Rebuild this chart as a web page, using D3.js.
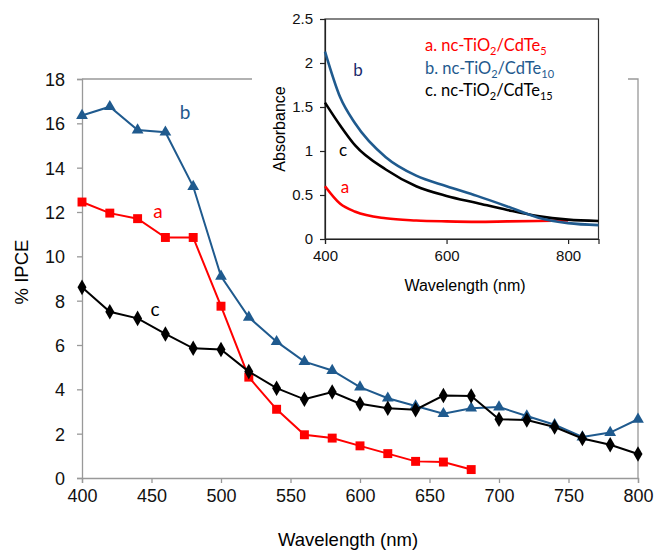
<!DOCTYPE html>
<html>
<head>
<meta charset="utf-8">
<script src="https://cdn.jsdelivr.net/npm/d3@7"></script>
<style>
  body { margin: 0; background: #fff; }
  svg { display: block; }
  .main text { font-family: "Liberation Sans", Arial, sans-serif; }
  .ins text { font-family: "Liberation Sans", Arial, sans-serif; }
</style>
</head>
<body>
<svg id="chart"></svg>
<script>
const WIDTH = 655;
const HEIGHT = 551;

// IPCE data (main chart)
const wlA = [400, 420, 440, 460, 480, 500, 520, 540, 560, 580, 600, 620, 640, 660, 680];
const ipceA = [12.45, 11.95, 11.7, 10.85, 10.85, 7.75, 4.55, 3.1, 1.95, 1.8, 1.45, 1.1, 0.75, 0.72, 0.38];

const wlBC = [400, 420, 440, 460, 480, 500, 520, 540, 560, 580, 600, 620, 640, 660, 680, 700, 720, 740, 760, 780, 800];
const ipceB = [16.35, 16.75, 15.7, 15.6, 13.15, 9.1, 7.25, 6.15, 5.25, 4.85, 4.1, 3.6, 3.25, 2.9, 3.15, 3.2, 2.8, 2.4, 1.85, 2.05, 2.65];
const ipceC = [8.6, 7.5, 7.2, 6.5, 5.85, 5.8, 4.8, 4.05, 3.55, 3.88, 3.35, 3.15, 3.08, 3.72, 3.7, 2.65, 2.62, 2.3, 1.78, 1.5, 1.08];

const xTicks = [400, 450, 500, 550, 600, 650, 700, 750, 800];
const yTicks = [0, 2, 4, 6, 8, 10, 12, 14, 16, 18];

// absorbance data (inset)
const absWl = [400, 425, 450, 500, 550, 600, 650, 700, 750, 800, 850];
const absA = [0.6, 0.4, 0.31, 0.235, 0.21, 0.2, 0.195, 0.2, 0.205, 0.21];
const absB = [2.13, 1.61, 1.31, 0.93, 0.72, 0.6, 0.49, 0.37, 0.245, 0.18, 0.158];
const absC = [1.55, 1.29, 1.06, 0.79, 0.6, 0.49, 0.41, 0.33, 0.26, 0.22, 0.205];

const insXTicks = [400, 600, 800];
const insYTicks = [0, 0.5, 1, 1.5, 2, 2.5];

const RED = "#ff0000";
const BLUE = "#1f5a8e";
const NAVY = "#1c2b6b";
const AXIS = "#999";

const svg = d3.select("#chart").attr("width", WIDTH).attr("height", HEIGHT);

//    Main chart    ////////////////////////////////////////////

const x = d3.scaleLinear().domain([400, 800]).range([82, 638]);
const y = d3.scaleLinear().domain([0, 18]).range([478, 79]);

const main = svg.append("g").attr("class", "main");

// frame (top + right)
main.append("path")
  .attr("d", `M${x(400)},${y(18)}H${x(800)}V${y(0)}`)
  .attr("fill", "none").attr("stroke", AXIS).attr("stroke-width", 1.3);

const xAxis = main.append("g")
  .attr("transform", `translate(0,${y(0)})`)
  .call(d3.axisBottom(x).tickValues(xTicks).tickSize(5).tickPadding(6));
const yAxis = main.append("g")
  .attr("transform", `translate(${x(400)},0)`)
  .call(d3.axisLeft(y).tickValues(yTicks).tickSize(5).tickPadding(12));

[xAxis, yAxis].forEach(a => {
  a.select(".domain").attr("stroke", AXIS).attr("stroke-width", 1.3);
  a.selectAll(".tick line").attr("stroke", AXIS).attr("stroke-width", 1.3);
  a.selectAll(".tick text").attr("fill", "#111").style("font-size", "18px");
});
yAxis.selectAll(".tick text").attr("dy", "0.36em");

main.append("text")
  .attr("x", 348).attr("y", 546)
  .attr("text-anchor", "middle")
  .style("font-size", "18.5px")
  .text("Wavelength (nm)");

main.append("text")
  .attr("transform", "translate(28,272) rotate(-90)")
  .attr("text-anchor", "middle")
  .style("font-size", "18.5px")
  .text("% IPCE");

const line = d3.line().x(d => x(d[0])).y(d => y(d[1]));

const series = [
  { name: "a", wl: wlA, v: ipceA, color: RED, sym: d3.symbolSquare, size: 80 },
  { name: "b", wl: wlBC, v: ipceB, color: BLUE, sym: d3.symbolTriangle, size: 60 },
  { name: "c", wl: wlBC, v: ipceC, color: "#000", sym: d3.symbolDiamond, size: 70 }
];

series.forEach(s => {
  const pts = s.wl.map((w, i) => [w, s.v[i]]);
  main.append("path")
    .datum(pts)
    .attr("d", line)
    .attr("fill", "none")
    .attr("stroke", s.color)
    .attr("stroke-width", 2);
  main.selectAll(".pt-" + s.name)
    .data(pts)
    .enter().append("path")
    .attr("class", "pt-" + s.name)
    .attr("transform", d => `translate(${x(d[0])},${y(d[1])})`)
    .attr("d", d3.symbol().type(s.sym).size(s.size))
    .attr("fill", s.color);
});

const mainLabels = [
  { t: "b", x: 185, y: 119, c: BLUE },
  { t: "a", x: 158, y: 218, c: RED },
  { t: "c", x: 155, y: 316, c: "#000" }
];
main.selectAll(".lbl")
  .data(mainLabels)
  .enter().append("text")
  .attr("x", d => d.x).attr("y", d => d.y)
  .attr("text-anchor", "middle")
  .attr("fill", d => d.c)
  .style("font-family", "Lato, sans-serif")
  .style("font-size", "19px")
  .text(d => d.t);

//    Inset    ////////////////////////////////////////////

const ix = d3.scaleLinear().domain([400, 850]).range([325, 598.5]);
const iy = d3.scaleLinear().domain([0, 2.5]).range([239, 19]);

const ins = svg.append("g").attr("class", "ins");

ins.append("rect")
  .attr("x", 252).attr("y", 0)
  .attr("width", 628 - 252).attr("height", 296)
  .attr("fill", "#fff");

ins.append("rect")
  .attr("x", ix(400)).attr("y", iy(2.5))
  .attr("width", ix(850) - ix(400)).attr("height", iy(0) - iy(2.5))
  .attr("fill", "none").attr("stroke", "#333").attr("stroke-width", 1.2);

const ixAxis = ins.append("g")
  .attr("transform", `translate(0,${iy(0)})`)
  .call(d3.axisBottom(ix).tickValues(insXTicks).tickSize(5).tickPadding(6));
const iyAxis = ins.append("g")
  .attr("transform", `translate(${ix(400)},0)`)
  .call(d3.axisLeft(iy).tickValues(insYTicks).tickSize(5).tickPadding(7)
    .tickFormat(d => d));

[ixAxis, iyAxis].forEach(a => {
  a.select(".domain").attr("stroke", "#222").attr("stroke-width", 1.2);
  a.selectAll(".tick line").attr("stroke", "#222").attr("stroke-width", 1.2);
  a.selectAll(".tick text").attr("fill", "#111").style("font-size", "15px");
});

ins.append("text")
  .attr("x", 465).attr("y", 291)
  .attr("text-anchor", "middle")
  .style("font-size", "16px")
  .text("Wavelength (nm)");

ins.append("text")
  .attr("transform", "translate(285,129) rotate(-90)")
  .attr("text-anchor", "middle")
  .style("font-size", "16px")
  .text("Absorbance");

const iline = d3.line().x(d => ix(d[0])).y(d => iy(d[1])).curve(d3.curveMonotoneX);

const absSeries = [
  { v: absA, color: RED },
  { v: absC, color: "#000" },
  { v: absB, color: BLUE }
];
absSeries.forEach(s => {
  ins.append("path")
    .datum(s.v.map((v, i) => [absWl[i], v]))
    .attr("d", iline)
    .attr("fill", "none")
    .attr("stroke", s.color)
    .attr("stroke-width", 2.6);
});

const insLabels = [
  { t: "b", x: 358, y: 76, c: NAVY },
  { t: "c", x: 343, y: 156, c: "#000" },
  { t: "a", x: 345, y: 193, c: RED }
];
ins.selectAll(".ilbl")
  .data(insLabels)
  .enter().append("text")
  .attr("x", d => d.x).attr("y", d => d.y)
  .attr("text-anchor", "middle")
  .attr("fill", d => d.c)
  .style("font-family", "Lato, sans-serif")
  .style("font-size", "17px")
  .text(d => d.t);

// legend
const legend = [
  { pre: "a. nc-TiO", sub1: "2", mid: "/CdTe", sub2: "5", c: RED },
  { pre: "b. nc-TiO", sub1: "2", mid: "/CdTe", sub2: "10", c: BLUE },
  { pre: "c. nc-TiO", sub1: "2", mid: "/CdTe", sub2: "15", c: "#000" }
];
legend.forEach((d, i) => {
  const t = ins.append("text")
    .attr("x", 425).attr("y", 51 + i * 22.5)
    .attr("fill", d.c)
    .style("font-family", "Lato, sans-serif")
    .style("font-size", "16.5px");
  t.append("tspan").text(d.pre);
  t.append("tspan").attr("dy", 4).style("font-size", "11px").text(d.sub1);
  t.append("tspan").attr("dy", -4).text(d.mid);
  t.append("tspan").attr("dy", 4).style("font-size", "11px").text(d.sub2);
});
</script>
</body>
</html>
